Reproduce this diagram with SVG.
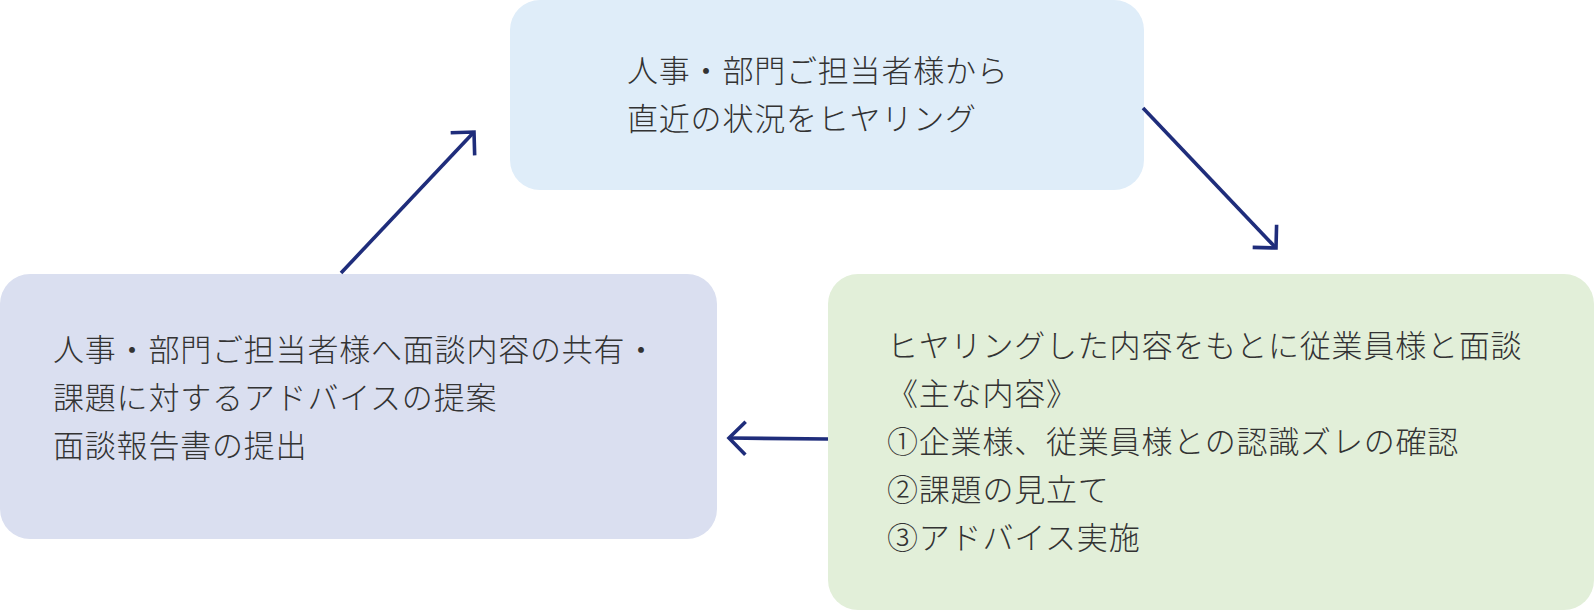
<svg xmlns="http://www.w3.org/2000/svg" width="1594" height="610" viewBox="0 0 1594 610">
<style>
.t{font-family:"Noto Sans CJK JP","Noto Sans",sans-serif;font-size:31px;font-weight:300;letter-spacing:0.8px;fill:#333333}
.c{fill:none;stroke:#1f2d7b;stroke-width:3.6}
</style>
<defs>
<marker id="ah" markerUnits="userSpaceOnUse" markerWidth="40" markerHeight="40" refX="0" refY="0" viewBox="-20 -20 40 40" orient="auto" overflow="visible">
<path d="M-16.5,-16.5 L0,0 L-16.5,16.5" fill="none" stroke="#1f2d7b" stroke-width="3.6"/>
</marker>
</defs>
<g id="node-hearing">
<rect x="510" y="0" width="634" height="190" rx="30" fill="#dfedf9"/>
<text class="t" x="627" y="82">人事・部門ご担当者様から</text>
<text class="t" x="627" y="130">直近の状況をヒヤリング</text>
</g>
<g id="node-report">
<rect x="0" y="274" width="717" height="265" rx="30" fill="#dadff0"/>
<text class="t" x="53" y="361">人事・部門ご担当者様へ面談内容の共有・</text>
<text class="t" x="53" y="409">課題に対するアドバイスの提案</text>
<text class="t" x="53" y="457">面談報告書の提出</text>
</g>
<g id="node-interview">
<rect x="828" y="274" width="766" height="336" rx="30" fill="#e2efd9"/>
<text class="t" x="887" y="357">ヒヤリングした内容をもとに従業員様と面談</text>
<text class="t" x="887" y="405">《主な内容》</text>
<text class="t" x="887" y="453">①企業様、従業員様との認識ズレの確認</text>
<text class="t" x="887" y="501">②課題の見立て</text>
<text class="t" x="887" y="549">③アドバイス実施</text>
</g>
<g id="connectors">
<path class="c" d="M341,273 L474,132" marker-end="url(#ah)"/>
<path class="c" d="M1143,108 L1276,248" marker-end="url(#ah)"/>
<path class="c" d="M828,439 L729,438" marker-end="url(#ah)"/>
</g>
</svg>
